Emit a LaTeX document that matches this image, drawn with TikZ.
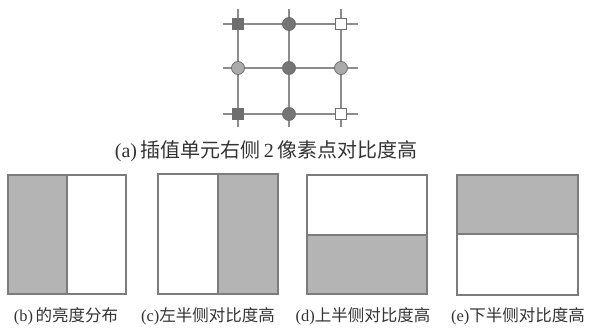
\documentclass[tikz,border=0pt]{standalone}
\usepackage{fontspec}
\setmainfont{Liberation Serif}
\newfontfamily\cjk{Noto Sans CJK SC}
\definecolor{gline}{HTML}{8C8C8C}
\definecolor{gdark}{HTML}{6E6E6E}
\definecolor{glight}{HTML}{ABABAB}
\definecolor{bfill}{HTML}{B4B4B4}
\definecolor{bedge}{HTML}{7C7C7C}
\definecolor{tcol}{HTML}{333333}
\begin{document}
\begin{tikzpicture}[x=1pt,y=-1pt,
  gridline/.style={draw=gline,line width=1.4pt},
  sqdark/.style={draw=gdark,fill=gdark,minimum size=11.5pt,inner sep=0pt,line width=0.8pt},
  sqwhite/.style={draw=gdark,fill=white,minimum size=11.5pt,inner sep=0pt,line width=1pt},
  cdark/.style={circle,draw=gdark,fill=gdark!95,minimum size=13pt,inner sep=0pt,line width=0.8pt},
  clight/.style={circle,draw=gdark,fill=glight,minimum size=13pt,inner sep=0pt,line width=0.8pt},
  halfgray/.style={fill=bfill,draw=bedge,line width=1.3pt},
  halfwhite/.style={fill=white,draw=bedge,line width=1.3pt},
  capa/.style={text=tcol,inner sep=0pt,font=\fontsize{20}{23}\selectfont},
  capb/.style={text=tcol,inner sep=0pt,font=\fontsize{16.5}{19}\selectfont}]
\useasboundingbox (0,0) rectangle (593,331);
% grid coordinates
\coordinate (c11) at (238,24);  \coordinate (c12) at (289,24);  \coordinate (c13) at (341,24);
\coordinate (c21) at (238,68);  \coordinate (c22) at (289,68);  \coordinate (c23) at (341,68);
\coordinate (c31) at (238,114); \coordinate (c32) at (289,114); \coordinate (c33) at (341,114);
\coordinate (l1) at (223,24);  \coordinate (r1) at (358,24);
\coordinate (l2) at (223,68);  \coordinate (r2) at (358,68);
\coordinate (l3) at (223,114); \coordinate (r3) at (358,114);
\coordinate (t1) at (238,9);   \coordinate (b1) at (238,127);
\coordinate (t2) at (289,9);   \coordinate (b2) at (289,127);
\coordinate (t3) at (341,9);   \coordinate (b3) at (341,127);
\draw[gridline] (l1) -- (r1);
\draw[gridline] (l2) -- (r2);
\draw[gridline] (l3) -- (r3);
\draw[gridline] (t1) -- (b1);
\draw[gridline] (t2) -- (b2);
\draw[gridline] (t3) -- (b3);
% grid nodes
\node[sqdark]  (g11) at (c11) {};
\node[cdark]   (g12) at (c12) {};
\node[sqwhite] (g13) at (c13) {};
\node[clight]  (g21) at (c21) {};
\node[cdark]   (g22) at (c22) {};
\node[clight]  (g23) at (c23) {};
\node[sqdark]  (g31) at (c31) {};
\node[cdark]   (g32) at (c32) {};
\node[sqwhite] (g33) at (c33) {};
\node[capa] (capA) at (266,151) {(a)\,{\cjk 插值单元右侧}\,2\,{\cjk 像素点对比度高}};
% (b)
\path[halfgray]  (8,175) rectangle (67,294);
\path[halfwhite] (67,175) rectangle (126,294);
% (c)
\path[halfwhite] (158,174) rectangle (218,294);
\path[halfgray]  (218,174) rectangle (278,294);
% (d)
\path[halfwhite] (307,175) rectangle (427,235);
\path[halfgray]  (307,235) rectangle (427,294);
% (e)
\path[halfgray]  (457,175) rectangle (578,234);
\path[halfwhite] (457,234) rectangle (578,295);
\node[capb] (capB) at (66,316) {(b)\,{\cjk 的亮度分布}};
\node[capb] (capC) at (208,316) {(c){\cjk 左半侧对比度高}};
\node[capb] (capD) at (363,316) {(d){\cjk 上半侧对比度高}};
\node[capb] (capE) at (518,316) {(e){\cjk 下半侧对比度高}};
\end{tikzpicture}
\end{document}
